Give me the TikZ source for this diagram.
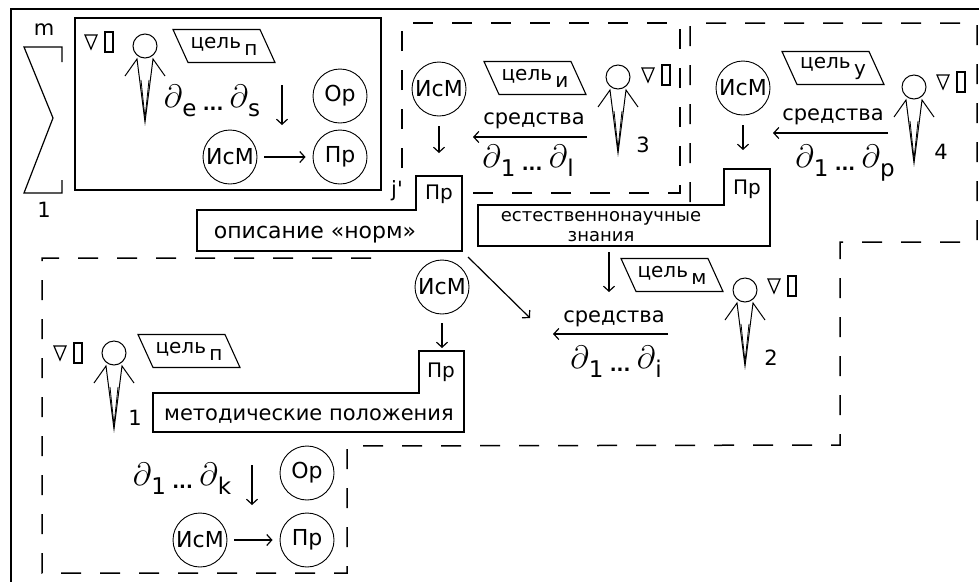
\documentclass[tikz,border=0pt]{standalone}
\usepackage{fontspec}
\setmainfont{DejaVu Sans}
\usetikzlibrary{arrows.meta}
\newcommand{\dsub}[1]{\scalebox{1.3}{$\partial$}\raisebox{-9pt}{#1}}
\newcommand{\dlist}[2]{\dsub{#1}\;\raisebox{-3pt}{\fontsize{18}{18}\selectfont\bfseries...}\;\dsub{#2}}
\newcommand{\goal}[1]{цель\,\raisebox{-7pt}{#1}}

\begin{document}
\begin{tikzpicture}[x=1pt,y=-1pt,
    >={Straight Barb[length=5pt,width=11pt]},
    op/.style={circle,draw,line width=0.9pt,minimum size=54pt,inner sep=0pt,font=\fontsize{22}{22}\selectfont},
    goal/.style={inner sep=0pt,font=\fontsize{20}{20}\selectfont},
    txt/.style={inner sep=0pt,anchor=base,font=\fontsize{21}{21}\selectfont},
    tab/.style={inner sep=0pt,font=\fontsize{20}{20}\selectfont},
    num/.style={inner sep=0pt,font=\fontsize{21}{21}\selectfont},
    dd/.style={inner sep=0pt,anchor=base,font=\fontsize{23}{23}\selectfont},
    zone/.style={line width=1.5pt,dash pattern=on 20pt off 19pt},
    box/.style={line width=1.3pt},
    normal line/.style={->,line width=1.2pt},
    goalframe/.pic={
      \draw[line width=1.1pt] (-51,-16.5) -- ++(87,0) -- ++(15,33) -- ++(-87,0) -- cycle;
    },
    agent/.pic={
      \draw[line width=1pt] (0,0) circle (12pt);
      \draw[line width=1pt] (-20,30) -- (-8,13) -- (0,76) -- (8,13) -- (20,30);
      \draw[line width=0.8pt] (-4,34) -- (0,72) -- (4,34);
    },
    mark/.pic={
      \draw[line width=1.2pt] (-6,-7) -- (6,-7) -- (0,7) -- cycle;
      \draw[line width=1.2pt] (14,-10) rectangle (22,10);
    }
  ]
\useasboundingbox (0,0) rectangle (979,582);
% outer frame and index bracket
\draw[line width=1.6pt] (979,9) -- (11,9) -- (11,582);
\draw[line width=1.2pt] (62,62) -- (62,47) -- (24,47) -- (53,118) -- (24,193) -- (62,193) -- (62,180);
\node[num] (m) at (44,30) {m};
\node[num] (one) at (44,210) {1};
\node[num] (jp) at (397,191) {j\textquotesingle};
%
% top-left box
\draw[box] (75,18) rectangle (381,190);
\pic at (91,42) {mark};
\pic at (145,46) {agent};
\node[goal] (goal0) at (224,46) {\goal{п}};
\pic at (goal0) {goalframe};
\node[dd] (d0) at (212,107) {\dlist{e}{s}};
\node[op] (or0) at (340,96) {Ор};
\node[op] (ism0) at (230,157) {ИсМ};
\node[op] (pr0) at (340,157) {Пр};
\coordinate (a0) at (282,85);
\coordinate (b0) at (282,125);
\draw[normal line] (a0) -- (b0);
\draw[normal line,shorten <=7pt,shorten >=7pt] (ism0) -- (pr0);
%
% zone 3
\draw[zone] (402,168) -- (402,23) -- (680,23) -- (680,193) -- (472,193);
\pic at (618,77) {agent};
\pic at (648,75) {mark};
\node[num] (n3) at (643,145) {3};
\node[goal] (goal3) at (535,78) {\goal{и}};
\pic at (goal3) {goalframe};
\node[op] (ism3) at (439,89) {ИсМ};
\node[txt] (means3) at (534,124) {средства};
\node[dd] (d3) at (528,167) {\dlist{1}{l}};
\coordinate (a3) at (439,126);
\coordinate (b3) at (439,153);
\coordinate (s3) at (587,137);
\coordinate (t3) at (473,137);
\draw[normal line] (a3) -- (b3);
\draw[normal line] (s3) -- (t3);
%
% zones 4, 2, 1
\draw[zone] (690,202) -- (690,23) -- (977,23) -- (977,242) -- (840,242) -- (840,445)
  -- (347,446) -- (347,573) -- (42,573) -- (42,258) -- (377,258);
\pic at (914,87) {agent};
\pic at (943,82) {mark};
\node[num] (n4) at (941,152) {4};
\node[goal] (goal4) at (833,68) {\goal{у}};
\pic at (goal4) {goalframe};
\node[op] (ism4) at (743,88) {ИсМ};
\node[txt] (means4) at (833,120) {средства};
\node[dd] (d4) at (845,167) {\dlist{1}{p}};
\coordinate (a4) at (743,125);
\coordinate (b4) at (743,150);
\coordinate (s4) at (888,133);
\coordinate (t4) at (773,133);
\draw[normal line] (a4) -- (b4);
\draw[normal line] (s4) -- (t4);
%
% products
\draw[box] (197,251) -- (197,210) -- (416,210) -- (416,176) -- (462,176) -- (462,251) -- cycle;
\node[tab] (prN) at (439,194) {Пр};
\node[txt,font=\fontsize{22}{22}\selectfont] (norms) at (315,238) {описание «норм»};
\draw[box] (478,246) -- (478,205) -- (724,205) -- (724,169) -- (770,169) -- (770,246) -- cycle;
\node[tab] (prE) at (747,189) {Пр};
\node[inner sep=0pt,align=center,font=\fontsize{18}{20}\selectfont] (sci) at (601,227)
  {естественнонаучные\\знания};
\draw[box] (153,432) -- (153,393) -- (419,393) -- (419,351) -- (464,351) -- (464,432) -- cycle;
\node[tab] (prM) at (441,372) {Пр};
\node[txt] (meth) at (309,420) {методические положения};
%
% zone 2
\pic at (745,290) {agent};
\pic at (774,286) {mark};
\node[num] (n2) at (771,358) {2};
\node[goal] (goal2) at (672,275) {\goal{м}};
\pic at (goal2) {goalframe};
\node[txt] (means2) at (614,322) {средства};
\node[dd] (d2) at (616,368) {\dlist{1}{i}};
\node[op] (ismC) at (442,287) {ИсМ};
\coordinate (a2) at (609,252);
\coordinate (b2) at (609,292);
\coordinate (s2) at (668,334);
\coordinate (t2) at (553,334);
\coordinate (aC) at (442,323);
\coordinate (bC) at (442,348);
\coordinate (aN) at (468,257);
\coordinate (bN) at (530,318);
\draw[normal line] (a2) -- (b2);
\draw[normal line] (s2) -- (t2);
\draw[normal line] (aC) -- (bC);
\draw[normal line] (aN) -- (bN);
%
% zone 1
\pic at (114,353) {agent};
\pic at (60,353) {mark};
\node[num] (n1) at (135,418) {1};
\node[goal] (goal1) at (189,351) {\goal{п}};
\pic at (goal1) {goalframe};
\node[dd] (d1) at (182,485) {\dlist{1}{k}};
\node[op] (or1) at (307,473) {Ор};
\node[op] (ism1) at (200,540) {ИсМ};
\node[op] (pr1) at (307,540) {Пр};
\coordinate (a1) at (252,465);
\coordinate (b1) at (252,505);
\draw[normal line] (a1) -- (b1);
\draw[normal line,shorten <=7pt,shorten >=7pt] (ism1) -- (pr1);
\end{tikzpicture}
\end{document}
